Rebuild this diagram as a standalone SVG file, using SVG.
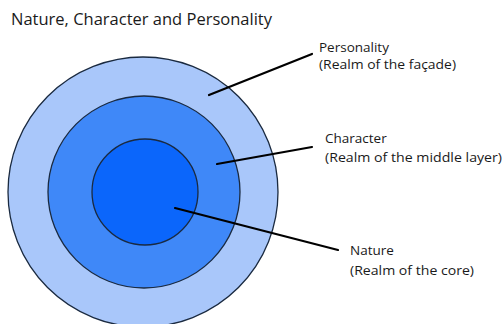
<svg xmlns="http://www.w3.org/2000/svg" width="503" height="324" viewBox="0 0 503 324">
<style>
.t{font-family:"Open Sans","Liberation Sans",sans-serif;fill:#1a1a1a}
.lbl{font-size:13.5px}
.ring{stroke:#1a2a40;stroke-width:1.3}
.conn{stroke:#000;stroke-width:2.2;stroke-linecap:round}
</style>
<rect width="503" height="324" fill="#fff"/>
<text class="t" x="11" y="25" font-size="16.5" textLength="261" lengthAdjust="spacingAndGlyphs">Nature, Character and Personality</text>
<g id="personality">
<circle class="ring" cx="143" cy="192" r="135" fill="#a9c7fa"/>
<text class="t lbl" x="319" y="52">Personality</text>
<text class="t lbl" x="319" y="69" textLength="137" lengthAdjust="spacingAndGlyphs">(Realm of the façade)</text>
</g>
<g id="character">
<circle class="ring" cx="144" cy="192" r="96" fill="#3f88f8"/>
<text class="t lbl" x="325" y="143">Character</text>
<text class="t lbl" x="325" y="162" textLength="177" lengthAdjust="spacingAndGlyphs">(Realm of the middle layer)</text>
</g>
<g id="nature">
<circle class="ring" cx="145" cy="192" r="53" fill="#0b66fb"/>
<text class="t lbl" x="350" y="255">Nature</text>
<text class="t lbl" x="350" y="275" textLength="124" lengthAdjust="spacingAndGlyphs">(Realm of the core)</text>
</g>
<g id="connectors">
<line class="conn" x1="209" y1="95" x2="312" y2="54"/>
<line class="conn" x1="217" y1="164" x2="312" y2="147"/>
<line class="conn" x1="175" y1="208" x2="338" y2="250"/>
</g>
</svg>
